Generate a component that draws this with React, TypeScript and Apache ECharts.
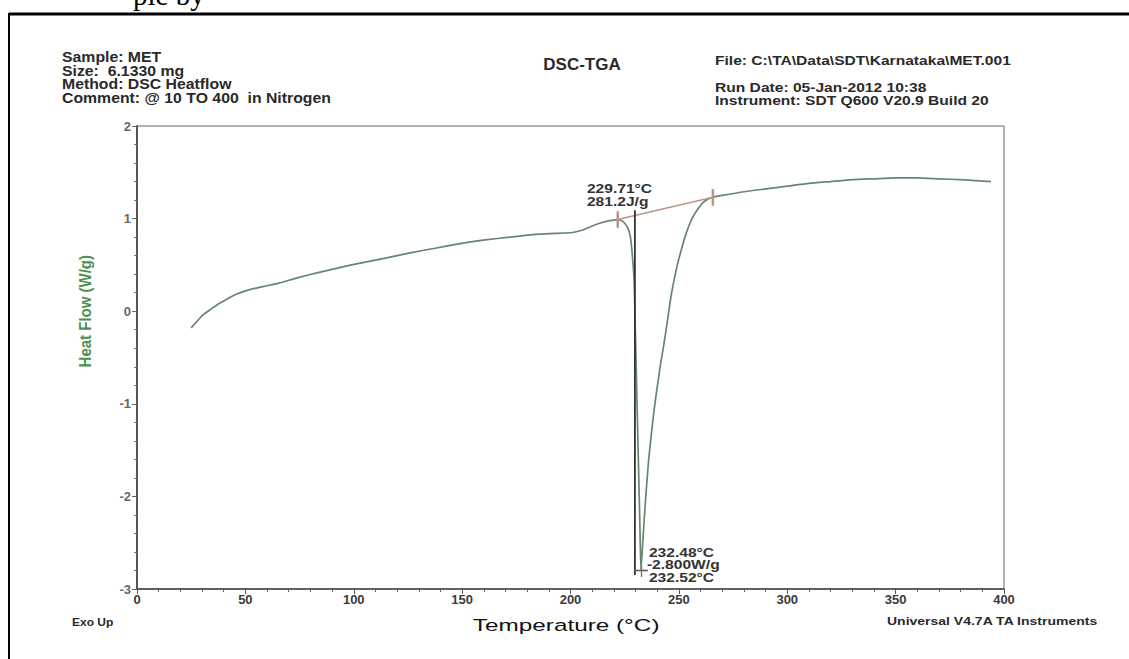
import React, { useEffect, useRef } from "react";
import * as echarts from "echarts";

// Measured DSC heat-flow curve (temperature °C, heat flow W/g)
const temperature = [
  25, 28, 31, 34, 37, 40, 43, 46, 50, 55, 60, 65, 74, 84, 99, 114, 126, 137.5, 149, 160.6, 172, 184, 193,
  201, 206, 210, 215, 219, 221.8, 223.5, 225, 226.4, 227.5, 228.2, 228.9, 229.4, 229.8, 230.3, 230.9,
  231.5, 232, 232.5, 233.2, 234, 234.9, 236, 237.2, 238.5, 240, 241.5, 243, 244.5, 246.3, 248, 249.5,
  251.2, 252.8, 254.6, 256.5, 258.7, 261, 263.3, 265.7, 270, 280, 290, 300, 310, 320, 330, 340, 350, 360,
  370, 380, 394,
];
const heatFlow = [
  -0.18, -0.1, -0.03, 0.02, 0.07, 0.11, 0.15, 0.185, 0.22, 0.25, 0.275, 0.3, 0.36, 0.42, 0.5, 0.57, 0.63,
  0.68, 0.73, 0.77, 0.8, 0.83, 0.84, 0.85, 0.88, 0.92, 0.96, 0.98, 0.99, 0.98, 0.95, 0.9, 0.82, 0.69, 0.5,
  0.3, -0.1, -0.6, -1.2, -1.8, -2.3, -2.8, -2.55, -2.25, -1.95, -1.62, -1.35, -1.08, -0.82, -0.58, -0.37,
  -0.14, 0.15, 0.36, 0.52, 0.67, 0.8, 0.92, 1.02, 1.1, 1.17, 1.21, 1.23, 1.25, 1.29, 1.32, 1.35, 1.38, 1.4,
  1.42, 1.43, 1.44, 1.44, 1.43, 1.42, 1.4,
];

// Integration baseline end points
const baselineT = [221.8, 265.7];
const baselineHF = [0.99, 1.23];

// Peak analysis
const onsetT = 229.71;
const onsetTopHF = 1.09;
const enthalpy = "281.2J/g";
const peakT = 232.48;
const peakHF = -2.8;
const peakT2 = 232.52;

const xTicks = { min: 0, max: 400, interval: 50 };
const yTicks = { min: -3, max: 2, interval: 1 };

const headerLeft = [
  "Sample: MET",
  "Size:  6.1330 mg",
  "Method: DSC Heatflow",
  "Comment: @ 10 TO 400  in Nitrogen",
];
const headerRight = [
  "File: C:\\TA\\Data\\SDT\\Karnataka\\MET.001",
  "",
  "Run Date: 05-Jan-2012 10:38",
  "Instrument: SDT Q600 V20.9 Build 20",
];
const title = "DSC-TGA";
const xName = "Temperature (°C)";
const yName = "Heat Flow (W/g)";

const FONT = "'Liberation Sans', Arial, sans-serif";

function txt(
  text: string,
  x: number,
  y: number,
  font: string,
  o: { align?: string; va?: string; sx?: number; sy?: number; fill?: string; rot?: number } = {}
) {
  return {
    type: "text",
    x,
    y,
    scaleX: o.sx ?? 1,
    scaleY: o.sy ?? 1,
    rotation: o.rot ?? 0,
    silent: true,
    style: {
      text,
      x: 0,
      y: 0,
      font,
      fill: o.fill ?? "#222",
      align: o.align ?? "left",
      verticalAlign: o.va ?? "middle",
    },
  };
}

export default function App() {
  const ref = useRef<HTMLDivElement>(null);
  useEffect(() => {
    if (!ref.current) return;
    const chart = echarts.init(ref.current, null, { renderer: "svg" });
    const curve = temperature.map((t, i) => [t, heatFlow[i]]);
    const tanColor = "#b8968a";
    const tickH = 0.09;
    chart.setOption({
      animation: false,
      backgroundColor: "#ffffff",
      textStyle: { fontFamily: FONT },
      grid: {
        left: 137,
        top: 126,
        width: 867,
        height: 463,
        show: true,
        borderColor: "#666",
        borderWidth: 1,
        backgroundColor: "transparent",
      },
      xAxis: {
        type: "value",
        min: xTicks.min,
        max: xTicks.max,
        interval: xTicks.interval,
        axisLine: { show: true, onZero: false, lineStyle: { color: "#444", width: 1.5 } },
        axisTick: { show: true, length: 5, inside: false, lineStyle: { color: "#555" } },
        minorTick: { show: true, splitNumber: 5, length: 3, lineStyle: { color: "#666" } },
        axisLabel: { fontSize: 13, fontWeight: "bold", color: "#3a3a3a", margin: 4, fontFamily: FONT },
        splitLine: { show: false },
      },
      yAxis: {
        type: "value",
        min: yTicks.min,
        max: yTicks.max,
        interval: yTicks.interval,
        axisLine: { show: true, onZero: false, lineStyle: { color: "#555", width: 2 } },
        axisTick: { show: true, length: 5, lineStyle: { color: "#666" } },
        minorTick: { show: true, splitNumber: 5, length: 3, lineStyle: { color: "#777" } },
        axisLabel: { fontSize: 13, fontWeight: "bold", color: "#666", margin: 6, fontFamily: FONT },
        splitLine: { show: false },
      },
      series: [
        {
          type: "line",
          data: curve,
          showSymbol: false,
          smooth: 0.15,
          lineStyle: { color: "#66866e", width: 1.7 },
          z: 3,
        },
        {
          type: "line",
          data: baselineT.map((t, i) => [t, baselineHF[i]]),
          showSymbol: false,
          lineStyle: { color: tanColor, width: 1.4 },
          z: 4,
        },
        {
          type: "line",
          data: [
            [baselineT[0], baselineHF[0] + tickH],
            [baselineT[0], baselineHF[0] - tickH],
          ],
          showSymbol: false,
          lineStyle: { color: tanColor, width: 2.5 },
          z: 4,
        },
        {
          type: "line",
          data: [
            [baselineT[1], baselineHF[1] + tickH],
            [baselineT[1], baselineHF[1] - tickH],
          ],
          showSymbol: false,
          lineStyle: { color: tanColor, width: 2.5 },
          z: 4,
        },
        {
          type: "line",
          data: [
            [onsetT, onsetTopHF],
            [onsetT, peakHF - 0.05],
          ],
          showSymbol: false,
          lineStyle: { color: "#333", width: 1.8 },
          z: 5,
        },
        {
          type: "line",
          data: [
            [peakT - 3.2, peakHF],
            [peakT + 3.2, peakHF],
          ],
          showSymbol: false,
          lineStyle: { color: "#555", width: 1.4 },
          z: 5,
        },
        {
          type: "line",
          data: [
            [peakT + 0.3, peakHF + 0.05],
            [peakT + 0.3, peakHF - 0.07],
          ],
          showSymbol: false,
          lineStyle: { color: "#8a7060", width: 1.4 },
          z: 5,
        },
      ],
    });

    const p1 = chart.convertToPixel({ gridIndex: 0 }, [onsetT, onsetTopHF]) as number[];
    const p2 = chart.convertToPixel({ gridIndex: 0 }, [peakT, peakHF]) as number[];
    const p0 = chart.convertToPixel({ gridIndex: 0 }, [198, 0]) as number[];
    const annFont = `bold 12px ${FONT}`;
    const hdrL = `bold 14px ${FONT}`;
    const hdrR = `bold 13px ${FONT}`;

    chart.setOption({
      graphic: [
        {
          type: "line",
          silent: true,
          shape: { x1: 9, y1: 14, x2: 1129, y2: 14 },
          style: { stroke: "#000", lineWidth: 3 },
        },
        {
          type: "line",
          silent: true,
          shape: { x1: 9, y1: 13, x2: 9, y2: 659 },
          style: { stroke: "#000", lineWidth: 2 },
        },
        txt("ple by", 133, 9, "29px 'Liberation Serif', Times, serif", { va: "bottom", fill: "#000" }),
        ...headerLeft.map((s, i) => txt(s, 62, 57 + i * 13.5, hdrL, { sx: 1.13, fill: "#2a2a2a" })),
        ...headerRight.map((s, i) => txt(s, 715, 60 + i * 13.5, hdrR, { sx: 1.2, fill: "#2a2a2a" })),
        txt(title, 582, 64, `bold 17px ${FONT}`, { align: "center", fill: "#2a2a2a" }),
        txt(xName, p0[0], 625, `17px ${FONT}`, { align: "center", sx: 1.43, fill: "#111" }),
        txt(yName, 85, p0[1], `bold 15px ${FONT}`, {
          align: "center",
          rot: Math.PI / 2,
          sy: 1.1,
          fill: "#4f8f4f",
        }),
        txt("Exo Up", 72, 622, `bold 10px ${FONT}`, { sx: 1.2, fill: "#2a2a2a" }),
        txt("Universal V4.7A TA Instruments", 887, 622, `bold 10px ${FONT}`, { sx: 1.4, fill: "#2a2a2a" }),
        txt(`${onsetT.toFixed(2)}°C`, p1[0] - 48, p1[1] - 22, annFont, { sx: 1.3, fill: "#333" }),
        txt(enthalpy, p1[0] - 48, p1[1] - 9, annFont, { sx: 1.3, fill: "#333" }),
        txt(`${peakT.toFixed(2)}°C`, p2[0] + 8, p2[1] - 18, annFont, { sx: 1.3, fill: "#333" }),
        txt(`${peakHF.toFixed(3)}W/g`, p2[0] + 6, p2[1] - 6, annFont, { sx: 1.3, fill: "#333" }),
        txt(`${peakT2.toFixed(2)}°C`, p2[0] + 8, p2[1] + 7, annFont, { sx: 1.3, fill: "#333" }),
      ],
    });
    return () => chart.dispose();
  }, []);
  return (
    <div
      ref={ref}
      style={{ position: "absolute", left: 0, top: 0, width: 1129, height: 659 }}
    />
  );
}
